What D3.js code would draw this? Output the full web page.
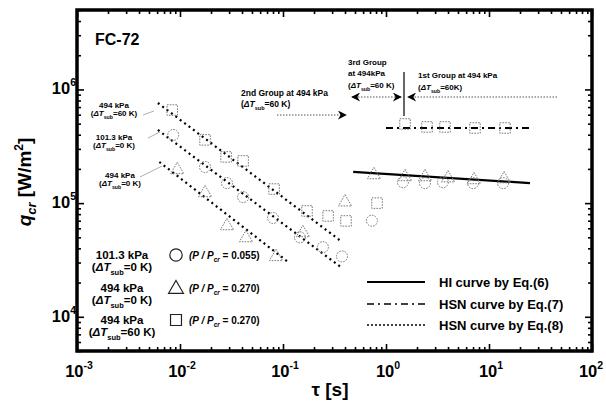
<!DOCTYPE html>
<html>
<head>
<meta charset="utf-8">
<script src="https://cdnjs.cloudflare.com/ajax/libs/d3/7.8.5/d3.min.js"></script>
<style>
body { margin: 0; background: #fff; }
svg { display: block; font-family: Arial, "Liberation Sans", sans-serif; }
</style>
</head>
<body>
<svg id="chart" width="606" height="405"></svg>
<script>
// 101.3 kPa, dTsub = 0 K  (circles)
var circTau = [0.0086, 0.0175, 0.0286, 0.041, 0.080, 0.146, 0.244, 0.374, 0.73, 1.46, 2.39, 3.57, 7.0, 13.7];
var circQ   = [3.98e5, 2.08e5, 1.50e5, 1.13e5, 7.4e4, 5.0e4, 4.1e4, 3.4e4, 7.0e4, 1.53e5, 1.50e5, 1.53e5, 1.50e5, 1.50e5];
// 494 kPa, dTsub = 0 K  (triangles)
var triTau = [0.0094, 0.0175, 0.0286, 0.0437, 0.0855, 0.156, 0.40, 0.764, 1.53, 2.39, 4.0, 7.15, 14.0];
var triQ   = [1.96e5, 1.23e5, 6.3e4, 4.94e4, 3.37e4, 5.47e4, 1.02e5, 1.77e5, 1.70e5, 1.70e5, 1.66e5, 1.60e5, 1.63e5];
// 494 kPa, dTsub = 60 K  (squares)
var sqTau = [0.0084, 0.0175, 0.028, 0.041, 0.082, 0.171, 0.274, 0.409, 0.818, 1.53, 2.5, 3.74, 7.31, 14.3];
var sqQ   = [6.59e5, 3.60e5, 2.55e5, 2.35e5, 1.33e5, 8.53e4, 7.71e4, 6.97e4, 1.00e5, 4.97e5, 4.68e5, 4.68e5, 4.58e5, 4.58e5];

// curves (end points)
var eq6Tau = [0.48, 25], eq6Q = [1.88e5, 1.50e5];
var eq7Tau = [1.0, 25], eq7Q = [4.58e5, 4.58e5];
var eq8TopTau = [0.0061, 0.374], eq8TopQ = [7.6e5, 4.56e4];
var eq8MidTau = [0.0061, 0.374], eq8MidQ = [4.4e5, 2.69e4];
var eq8LowTau = [0.0063, 0.112], eq8LowQ = [2.3e5, 3.04e4];

var xExp = [-3, -2, -1, 0, 1, 2];
var yExp = [4, 5, 6];

var legendNames = ["101.3 kPa", "494 kPa", "494 kPa"];
var legendSub = ["0", "0", "60"];
var legendRatio = ["0.055", "0.270", "0.270"];
var curveNames = ["HI curve by Eq.(6)", "HSN curve by Eq.(7)", "HSN curve by Eq.(8)"];

var svg = d3.select("#chart");
var margin = {left: 77, right: 14, top: 10, bottom: 54};
var W = 606, H = 405;

var x = d3.scaleLog().domain([1e-3, 1e2]).range([margin.left, W - margin.right]);
var y = d3.scaleLog().domain([5e3, 5e6]).range([H - margin.bottom, margin.top]);

function zip(a, b) { return a.map(function(d, i) { return [d, b[i]]; }); }

// ticks
var minorX = [], minorY = [];
for (var e = -3; e < 2; e++) for (var m = 2; m < 10; m++) minorX.push(m * Math.pow(10, e));
for (var e2 = 3; e2 < 7; e2++) for (var m2 = 2; m2 < 10; m2++) {
  var v = m2 * Math.pow(10, e2);
  if (v >= 5e3 && v <= 5e6) minorY.push(v);
}
var majX = xExp.map(function(d) { return Math.pow(10, d); });
var majY = yExp.map(function(d) { return Math.pow(10, d); });

function axisPair(gen, pos, tr) {
  var g = svg.append("g").attr("transform", tr);
  g.call(gen(pos).tickValues(pos === x ? majX : majY).tickSize(-7).tickFormat(""));
  var g2 = svg.append("g").attr("transform", tr);
  g2.call(gen(pos).tickValues(pos === x ? minorX : minorY).tickSize(-4).tickFormat(""));
  [g, g2].forEach(function(s) {
    s.select(".domain").remove();
    s.selectAll("line").attr("stroke", "#000").attr("stroke-width", 1.6);
  });
}
axisPair(d3.axisBottom, x, "translate(0," + (H - margin.bottom) + ")");
axisPair(d3.axisTop, x, "translate(0," + margin.top + ")");
axisPair(d3.axisLeft, y, "translate(" + margin.left + ",0)");
axisPair(d3.axisRight, y, "translate(" + (W - margin.right) + ",0)");

svg.append("rect")
  .attr("x", margin.left).attr("y", margin.top)
  .attr("width", W - margin.left - margin.right)
  .attr("height", H - margin.top - margin.bottom)
  .attr("fill", "none").attr("stroke", "#000").attr("stroke-width", 3.5);

// tick labels
xExp.forEach(function(d, i) {
  var t = svg.append("text")
    .attr("x", Math.min(x(Math.pow(10, d)) + 2, 591)).attr("y", 377)
    .attr("text-anchor", "middle").attr("font-size", 16.5).attr("font-weight", "bold");
  t.append("tspan").text("10");
  t.append("tspan").attr("font-size", 10.5).attr("dy", -8).text(d);
});
yExp.forEach(function(d) {
  var t = svg.append("text")
    .attr("x", 76).attr("y", y(Math.pow(10, d)) + 5)
    .attr("text-anchor", "end").attr("font-size", 16.5).attr("font-weight", "bold");
  t.append("tspan").text("10");
  t.append("tspan").attr("font-size", 10.5).attr("dy", -8).text(d);
});

// axis titles
var yt = svg.append("text")
  .attr("transform", "translate(31,182) rotate(-90)")
  .attr("text-anchor", "middle").attr("font-size", 19).attr("font-weight", "bold");
yt.append("tspan").attr("font-style", "italic").text("q");
yt.append("tspan").attr("font-style", "italic").attr("font-size", 13).attr("dy", 5).text("cr");
yt.append("tspan").attr("dy", -5).text(" [W/m");
yt.append("tspan").attr("font-size", 12).attr("dy", -8).text("2");
yt.append("tspan").attr("dy", 8).text("]");

svg.append("text").attr("x", 330).attr("y", 396).attr("text-anchor", "middle")
  .attr("font-size", 19).attr("font-weight", "bold").text("\u03c4 [s]");

svg.append("text").attr("x", 95).attr("y", 45).attr("font-size", 16)
  .attr("font-weight", "bold").text("FC-72");

// curves
var line = d3.line().x(function(d) { return x(d[0]); }).y(function(d) { return y(d[1]); });
svg.append("path").attr("d", line(zip(eq6Tau, eq6Q)))
  .attr("fill", "none").attr("stroke", "#000").attr("stroke-width", 2.2);
svg.append("path").attr("d", line(zip(eq7Tau, eq7Q)))
  .attr("fill", "none").attr("stroke", "#000").attr("stroke-width", 1.8)
  .attr("stroke-dasharray", "7,4,2,4");
[[eq8TopTau, eq8TopQ], [eq8MidTau, eq8MidQ], [eq8LowTau, eq8LowQ]].forEach(function(c) {
  svg.append("path").attr("d", line(zip(c[0], c[1])))
    .attr("fill", "none").attr("stroke", "#000").attr("stroke-width", 2.2)
    .attr("stroke-dasharray", "2,3.5");
});

// markers
var mk = {fill: "none", stroke: "#777", sw: 1, dash: "1.6,1.2"};
svg.append("g").selectAll("circle").data(zip(circTau, circQ)).enter().append("circle")
  .attr("cx", function(d) { return x(d[0]); }).attr("cy", function(d) { return y(d[1]); })
  .attr("r", 5.5).attr("fill", mk.fill).attr("stroke", mk.stroke)
  .attr("stroke-width", mk.sw).attr("stroke-dasharray", mk.dash);
svg.append("g").selectAll("path").data(zip(triTau, triQ)).enter().append("path")
  .attr("transform", function(d) { return "translate(" + x(d[0]) + "," + y(d[1]) + ")"; })
  .attr("d", d3.symbol().type(d3.symbolTriangle).size(75))
  .attr("fill", mk.fill).attr("stroke", mk.stroke)
  .attr("stroke-width", mk.sw).attr("stroke-dasharray", mk.dash);
svg.append("g").selectAll("path").data(zip(sqTau, sqQ)).enter().append("path")
  .attr("transform", function(d) { return "translate(" + x(d[0]) + "," + y(d[1]) + ")"; })
  .attr("d", d3.symbol().type(d3.symbolSquare).size(110))
  .attr("fill", mk.fill).attr("stroke", mk.stroke)
  .attr("stroke-width", mk.sw).attr("stroke-dasharray", mk.dash);

// dT_sub text helper
function dT(sel, val, fs) {
  sel.append("tspan").text("(");
  sel.append("tspan").attr("font-style", "italic").text("\u0394T");
  sel.append("tspan").attr("font-size", fs * 0.65).attr("dy", fs * 0.35).text("sub");
  sel.append("tspan").attr("dy", -fs * 0.35).text("=" + val + ")");
}
function label(xp, yp, a, b, fs, anchor) {
  svg.append("text").attr("x", xp).attr("y", yp).attr("text-anchor", anchor)
    .attr("font-size", fs).attr("font-weight", "bold").text(a);
  var t = svg.append("text").attr("x", xp).attr("y", yp + fs * 1.05).attr("text-anchor", anchor)
    .attr("font-size", fs).attr("font-weight", "bold");
  dT(t, b, fs);
}

// labels next to Eq.(8) lines
label(114, 108, "494 kPa", "60 K", 8, "middle");
label(114, 140, "101.3 kPa", "0 K", 8, "middle");
label(120, 178, "494 kPa", "0 K", 8, "middle");
var lead = [[[143, 115], [154, 111]], [[148, 138], [160, 132]], [[140, 177], [162, 166]]];
lead.forEach(function(l) {
  svg.append("line").attr("x1", l[0][0]).attr("y1", l[0][1]).attr("x2", l[1][0]).attr("y2", l[1][1])
    .attr("stroke", "#999").attr("stroke-width", 0.8);
});

// group annotations
var defs = svg.append("defs");
defs.append("marker").attr("id", "ah").attr("viewBox", "0 0 10 10")
  .attr("refX", 9).attr("refY", 5).attr("markerWidth", 11).attr("markerHeight", 9)
  .attr("markerUnits", "userSpaceOnUse").attr("orient", "auto-start-reverse")
  .append("path").attr("d", "M0,0 L10,5 L0,10 L3,5 Z").attr("fill", "#000");

function arrow(x1, y1, x2, y2, both) {
  var p = svg.append("line").attr("x1", x1).attr("y1", y1).attr("x2", x2).attr("y2", y2)
    .attr("stroke", "#555").attr("stroke-width", 1).attr("stroke-dasharray", "1.5,1.5")
    .attr("marker-end", "url(#ah)");
  if (both) p.attr("marker-start", "url(#ah)");
}
svg.append("text").attr("x", 241).attr("y", 96).attr("font-size", 8.5).attr("font-weight", "bold")
  .text("2nd Group at 494 kPa");
var t2 = svg.append("text").attr("x", 241).attr("y", 107).attr("font-size", 8.5).attr("font-weight", "bold");
dT(t2, "60 K", 8.5);
arrow(277, 115, 346, 115, false);

svg.append("text").attr("x", 348).attr("y", 65).attr("font-size", 8).attr("font-weight", "bold").text("3rd Group");
svg.append("text").attr("x", 348).attr("y", 76).attr("font-size", 8).attr("font-weight", "bold").text("at 494kPa");
var t3 = svg.append("text").attr("x", 348).attr("y", 88).attr("font-size", 8).attr("font-weight", "bold");
dT(t3, "60 K", 8);
arrow(352, 97, 401, 97, true);

svg.append("line").attr("x1", 404).attr("y1", 72).attr("x2", 404).attr("y2", 116)
  .attr("stroke", "#000").attr("stroke-width", 1.2);

svg.append("text").attr("x", 418).attr("y", 78).attr("font-size", 8).attr("font-weight", "bold")
  .text("1st Group at 494 kPa");
var t1 = svg.append("text").attr("x", 418).attr("y", 90).attr("font-size", 8).attr("font-weight", "bold");
dT(t1, "60K", 8);
arrow(557, 97, 408, 97, false);

// bottom-left legend
var legY = [255, 288, 320];
legendNames.forEach(function(n, i) {
  label(122, legY[i] + 4, n, legendSub[i] + " K", 11.5, "middle");
  var cx = 176, cy = legY[i];
  if (i === 0) svg.append("circle").attr("cx", cx).attr("cy", cy).attr("r", 6.2)
    .attr("fill", "none").attr("stroke", "#222").attr("stroke-width", 1.2);
  if (i === 1) svg.append("path").attr("transform", "translate(" + cx + "," + (cy + 1) + ")")
    .attr("d", d3.symbol().type(d3.symbolTriangle).size(95))
    .attr("fill", "none").attr("stroke", "#222").attr("stroke-width", 1.2);
  if (i === 2) svg.append("path").attr("transform", "translate(" + cx + "," + cy + ")")
    .attr("d", d3.symbol().type(d3.symbolSquare).size(120))
    .attr("fill", "none").attr("stroke", "#222").attr("stroke-width", 1.2);
  var t = svg.append("text").attr("x", 189).attr("y", cy + 4).attr("font-size", 10)
    .attr("font-weight", "bold").attr("font-style", "italic");
  t.append("tspan").text("(P / P");
  t.append("tspan").attr("font-size", 6.5).attr("dy", 3).text("cr");
  t.append("tspan").attr("dy", -3).attr("font-style", "normal").text(" = " + legendRatio[i] + ")");
});

// curve legend
var cly = [282, 304, 325];
var dashes = [null, "7,4,2,4", "2,2"];
var widths = [2, 1.6, 1.4];
curveNames.forEach(function(n, i) {
  var l = svg.append("line").attr("x1", 367).attr("x2", 425).attr("y1", cly[i]).attr("y2", cly[i])
    .attr("stroke", "#000").attr("stroke-width", widths[i]);
  if (dashes[i]) l.attr("stroke-dasharray", dashes[i]);
  svg.append("text").attr("x", 439).attr("y", cly[i] + 5).attr("font-size", 13)
    .attr("font-weight", "bold").text(n);
});
</script>
</body>
</html>
